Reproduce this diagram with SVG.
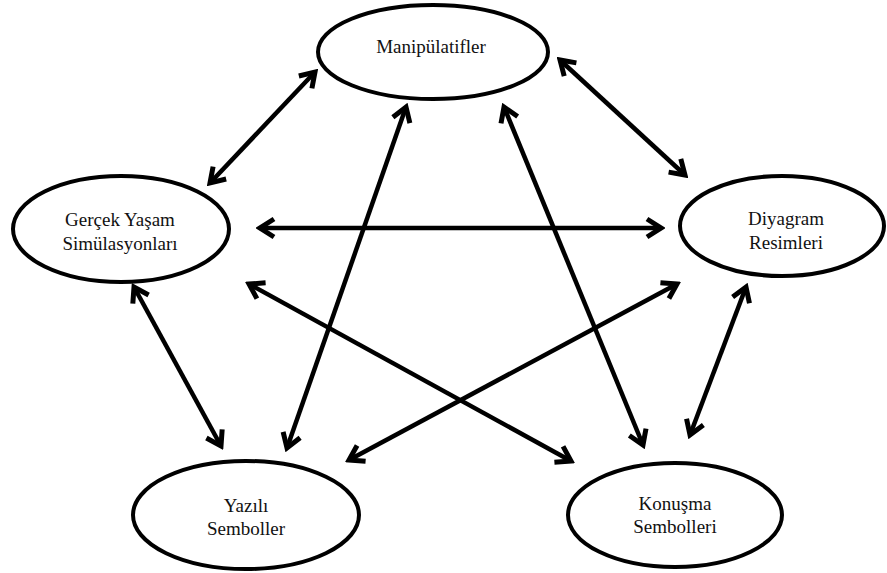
<svg xmlns="http://www.w3.org/2000/svg" width="887" height="573" viewBox="0 0 887 573">
<defs>
<style>
.node ellipse{fill:#fff;stroke:#000;stroke-width:4}
.node text{font-family:'Liberation Serif','Tinos','Times New Roman','DejaVu Serif',serif;font-size:19px;fill:#111;text-anchor:middle}
#connectors line{stroke:#000;stroke-width:4.5;marker-start:url(#ah);marker-end:url(#ah)}
</style>
<marker id="ah" markerUnits="userSpaceOnUse" viewBox="-18 -12 22 24" refX="0" refY="0" markerWidth="22" markerHeight="24" orient="auto-start-reverse">
<path d="M-14,-9 L0,0 L-14,9" fill="none" stroke="#000" stroke-width="5" stroke-linejoin="miter" stroke-miterlimit="10"/>
</marker>
</defs>
<rect width="887" height="573" fill="#fff"/>
<g id="connectors">
<line x1="315" y1="72" x2="210" y2="183"/>
<line x1="560" y1="60" x2="685" y2="175"/>
<line x1="260" y1="228" x2="661" y2="228"/>
<line x1="406" y1="107" x2="287" y2="448"/>
<line x1="504" y1="107" x2="643" y2="445"/>
<line x1="249" y1="284" x2="571" y2="461"/>
<line x1="677" y1="284" x2="349" y2="460"/>
<line x1="134" y1="287" x2="221" y2="446"/>
<line x1="746" y1="287" x2="690" y2="435"/>
</g>
<g id="manipulatifler" class="node">
<ellipse cx="433" cy="52" rx="115" ry="47"/>
<text x="431" y="53">Manipülatifler</text>
</g>
<g id="gercek" class="node">
<ellipse cx="121" cy="229" rx="108" ry="53"/>
<text x="120" y="226">Gerçek Yaşam</text>
<text x="120" y="250">Simülasyonları</text>
</g>
<g id="diyagram" class="node">
<ellipse cx="782" cy="226" rx="102" ry="50"/>
<text x="786" y="225">Diyagram</text>
<text x="786" y="249">Resimleri</text>
</g>
<g id="yazili" class="node">
<ellipse cx="246" cy="515" rx="113" ry="54"/>
<text x="246" y="512">Yazılı</text>
<text x="246" y="535">Semboller</text>
</g>
<g id="konusma" class="node">
<ellipse cx="675" cy="515" rx="107" ry="52"/>
<text x="675" y="510">Konuşma</text>
<text x="675" y="533">Sembolleri</text>
</g>
</svg>
